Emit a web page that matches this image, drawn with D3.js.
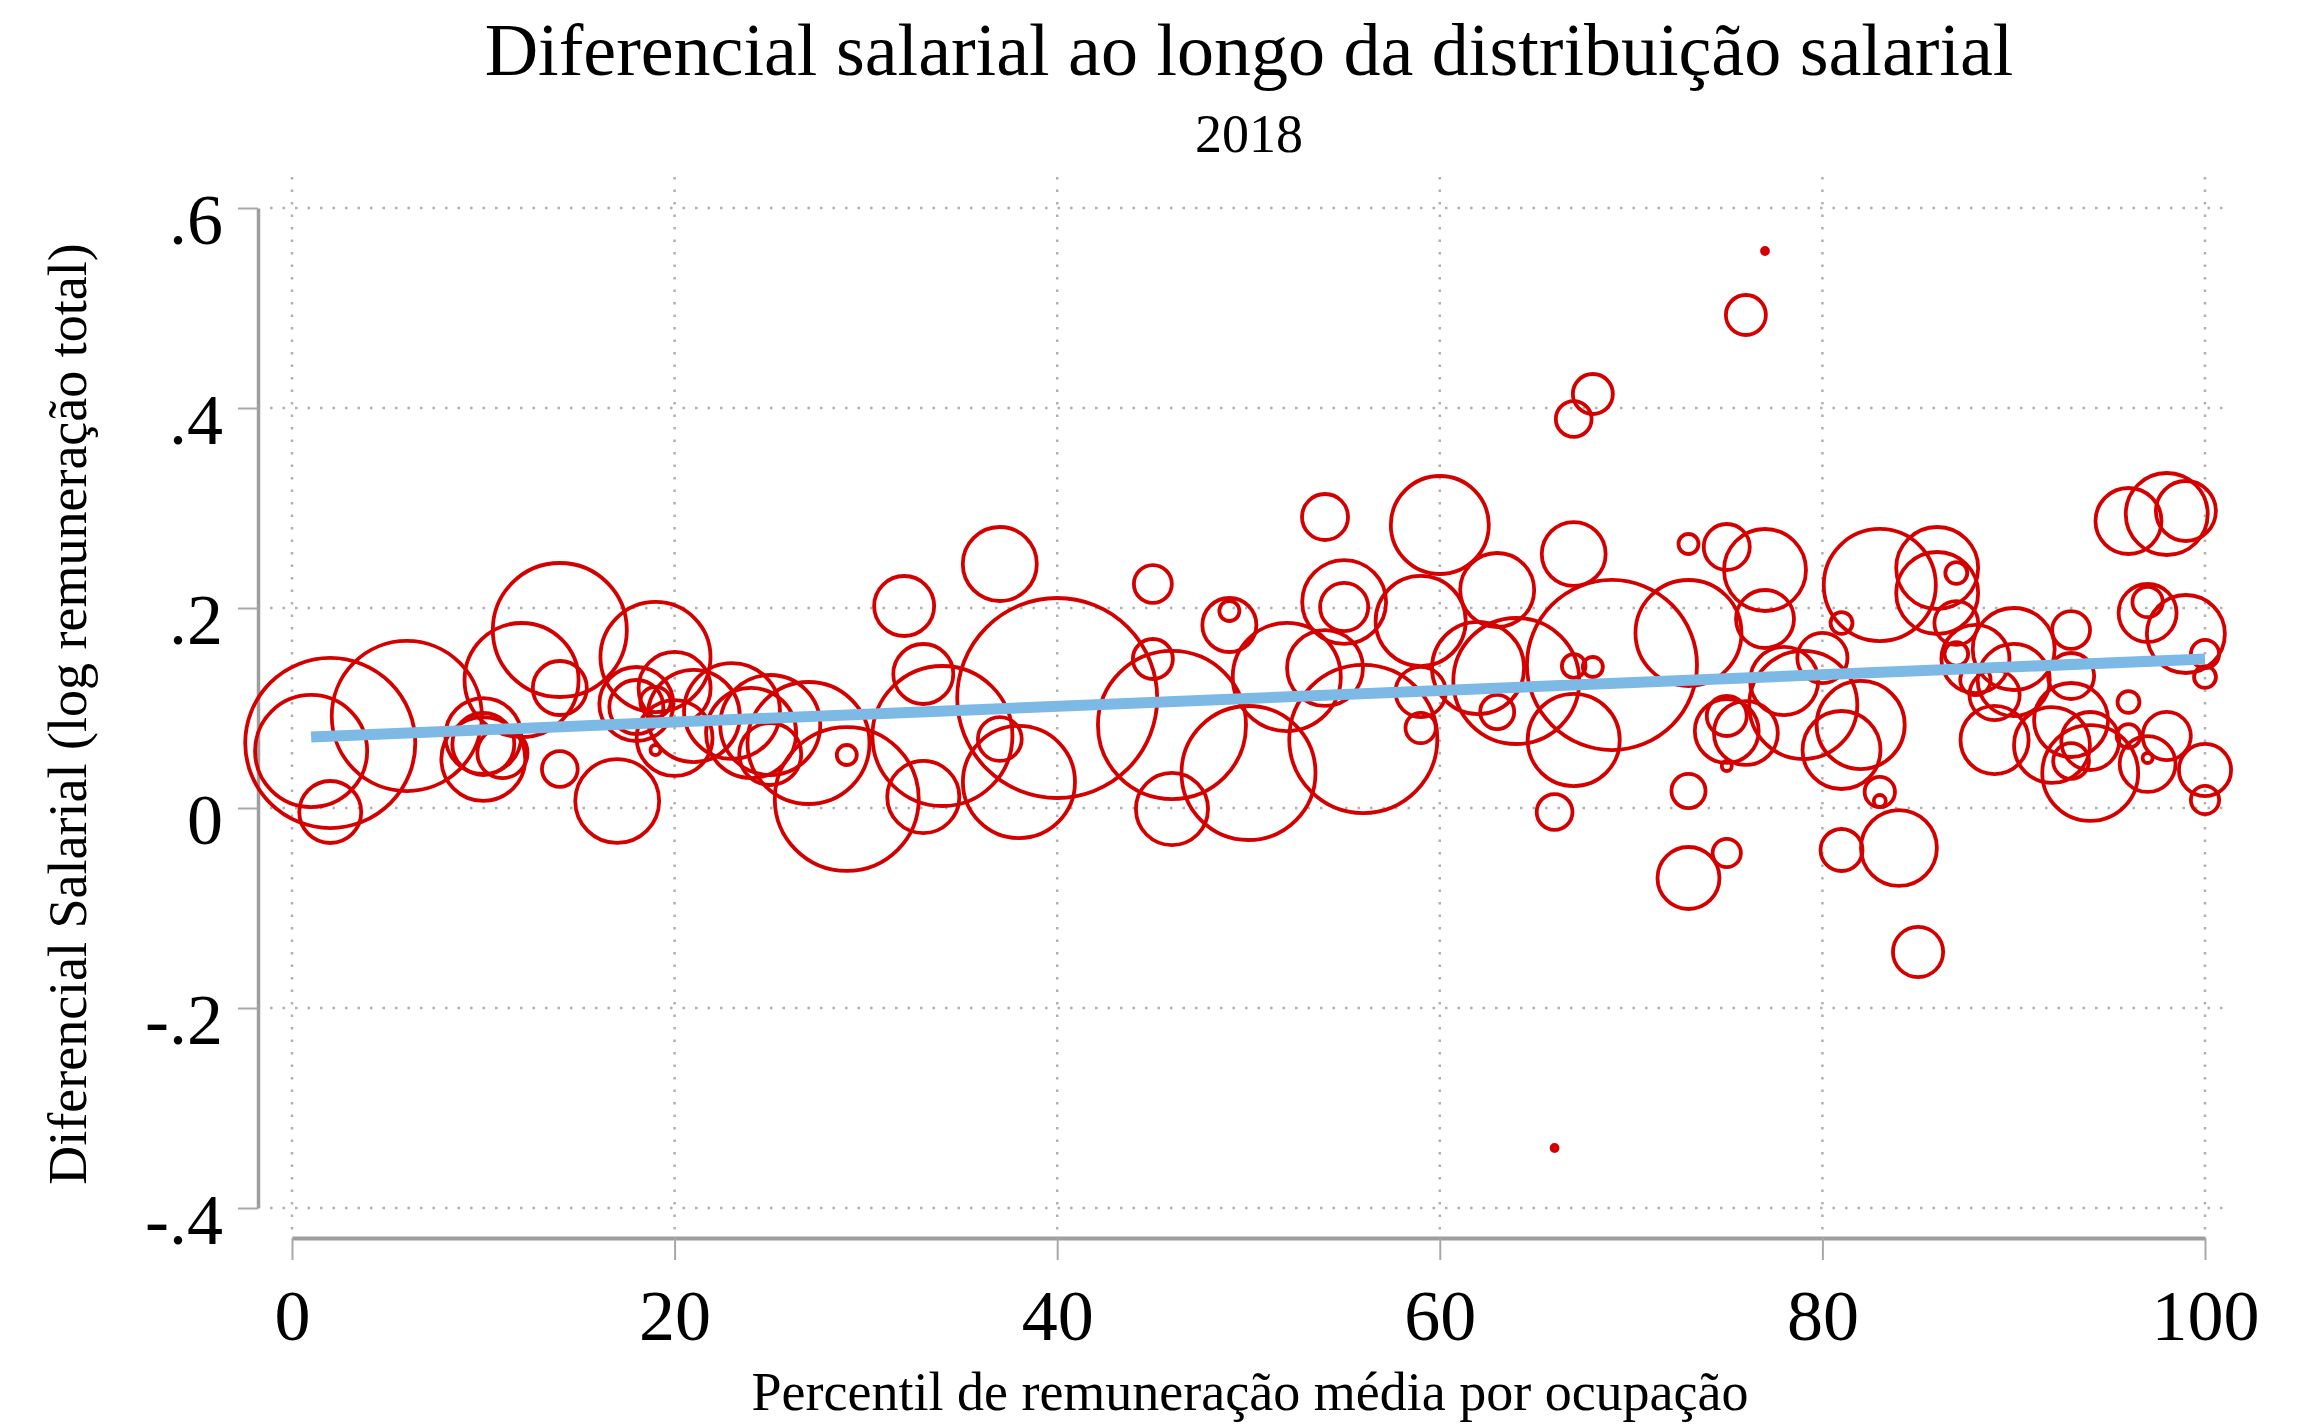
<!DOCTYPE html>
<html>
<head>
<meta charset="utf-8">
<script src="https://cdn.jsdelivr.net/npm/d3@7"></script>
<style>
  body { margin: 0; background: #fff; }
  text { font-family: "Liberation Serif", "Times New Roman", serif; fill: #000; }
</style>
</head>
<body>
<script>
// dados (percentil, diferencial, peso da ocupacao)
const percentil = [1, 2, 2, 6, 10, 10, 10, 11, 12, 14, 14, 14, 17, 18, 18, 19, 19, 19, 20, 20,
  21, 23, 24, 25, 25, 27, 29, 29, 32, 33, 33, 34, 37, 37, 38, 40, 45, 45, 46, 46,
  49, 49, 50, 52, 54, 54, 55, 55, 56, 59, 59, 59, 60, 62, 63, 63, 64, 66, 66, 67,
  67, 68, 67, 68, 69, 67, 73, 73, 73, 73, 75, 75, 76, 75, 75, 75, 76, 77, 77, 77,
  78, 79, 80, 81, 81, 81, 82, 83, 83, 83, 84, 85, 86, 86, 87, 87, 87, 88, 88, 89,
  89, 90, 90, 92, 93, 93, 93, 93, 94, 94, 96, 96, 96, 97, 97, 97, 97, 98, 98, 99,
  99, 100, 100, 100, 100];

const diferencial = [0.057, 0.065, -0.004, 0.092, 0.049, 0.072, 0.064, 0.055, 0.128, 0.178, 0.12, 0.039, 0.007, 0.104, 0.101, 0.106, 0.058, 0.151, 0.12, 0.07,
  0.092, 0.097, 0.075, 0.083, 0.054, 0.065, 0.009, 0.053, 0.202, 0.134, 0.011, 0.072, 0.244, 0.069, 0.026, 0.11, 0.224, 0.149, 0.083, -0.001,
  0.183, 0.197, 0.035, 0.131, 0.291, 0.14, 0.206, 0.201, 0.069, 0.187, 0.116, 0.08, 0.283, 0.14, 0.218, 0.096, 0.127, -0.004, -0.34, 0.254,
  0.389, 0.414, 0.142, 0.141, 0.143, 0.068, 0.175, 0.264, 0.017, -0.07, 0.261, 0.077, 0.075, 0.092, 0.042, -0.045, 0.493, 0.557, 0.238, 0.189,
  0.127, 0.103, 0.15, 0.185, 0.058, -0.042, 0.083, 0.223, 0.016, 0.007, -0.04, -0.144, 0.24, 0.215, 0.235, 0.185, 0.154, 0.149, 0.128, 0.113,
  0.068, 0.159, 0.128, 0.063, 0.178, 0.132, 0.088, 0.047, 0.067, 0.035, 0.287, 0.106, 0.072, 0.195, 0.206, 0.044, 0.05, 0.294, 0.072, 0.297,
  0.174, 0.154, 0.131, 0.038, 0.008];

const peso = [31.4, 72.3, 9.6, 56.3, 17.6, 14.4, 9.6, 6.3, 32.5, 44.9, 7.3, 3.2, 17.6, 13.7, 7.3, 2.3, 0.25, 30.3, 13, 14.4,
  21.2, 23, 20.3, 25, 9.6, 37.2, 51.8, 1, 9, 9, 13, 49, 13.7, 4.8, 31.4, 100, 3.6, 4, 54.8, 13,
  7.3, 1, 44.9, 29.2, 5.3, 14.4, 17.6, 5.8, 54.8, 20.3, 6.3, 2.3, 24, 21.2, 13.7, 2.9, 39.7, 3.2, 0.09, 10.2,
  3.2, 4, 1.4, 1, 72.3, 21.2, 28.1, 1, 2.9, 9.6, 5.3, 10.2, 10.2, 4, 0.25, 2, 4, 0.09, 16.8, 8.4,
  11.6, 29.2, 6.3, 1.2, 15.2, 4.4, 19.4, 31.4, 2.3, 0.36, 14.4, 6.3, 16.8, 16.8, 1.2, 4.8, 1.4, 11.6, 2.3, 6.3,
  11.6, 16.8, 13, 14.4, 3.6, 5.3, 13.7, 3.2, 8.4, 23, 10.9, 1.2, 1.4, 8.4, 2.3, 7.8, 0.25, 16.8, 5.8, 9,
  15.2, 2, 1.2, 6.8, 2];

// reta ajustada (valores previstos nos extremos)
const ajusteX = [1, 100];
const ajusteY = [0.071, 0.149];

const xTicks = [0, 20, 40, 60, 80, 100];
const yTicks = [-0.4, -0.2, 0, 0.2, 0.4, 0.6];

const titulo = 'Diferencial salarial ao longo da distribuição salarial';
const subtitulo = '2018';
const tituloX = 'Percentil de remuneração média por ocupação';
const tituloY = 'Diferencial Salarial (log remuneração total)';

const width = 2315;
const height = 1428;

const svg = d3.select('body')
              .append('svg')
              .attr('width', width)
              .attr('height', height)
              .style('background', '#fff');

const xScale = d3.scaleLinear().domain([0, 100]).range([292, 2205]);
const yScale = d3.scaleLinear().domain([-0.4, 0.6]).range([1208, 208]);
const rScale = d3.scaleSqrt().domain([0, 100]).range([0, 100]);

const plotLeft = 270, plotRight = 2230, plotTop = 177, plotBottom = 1232;

// grade pontilhada
svg.append('g')
   .selectAll('line')
   .data(yTicks)
   .enter()
   .append('line')
   .attr('x1', plotLeft)
   .attr('x2', plotRight)
   .attr('y1', d => yScale(d))
   .attr('y2', d => yScale(d))
   .attr('stroke', '#b0b0b0')
   .attr('stroke-width', 2.5)
   .attr('stroke-dasharray', '2.5 10');

svg.append('g')
   .selectAll('line')
   .data(xTicks)
   .enter()
   .append('line')
   .attr('x1', d => xScale(d))
   .attr('x2', d => xScale(d))
   .attr('y1', plotTop)
   .attr('y2', plotBottom)
   .attr('stroke', '#b0b0b0')
   .attr('stroke-width', 2.5)
   .attr('stroke-dasharray', '2.5 10');

// eixos
const fmtY = d => d === 0 ? '0' : (d < 0 ? '-' : '') + d3.format('.1f')(Math.abs(d)).replace('0.', '.');

const yAxis = svg.append('g')
                 .attr('transform', 'translate(258, 0)')
                 .call(d3.axisLeft(yScale).tickValues(yTicks).tickFormat(fmtY).tickSize(20).tickSizeOuter(0).tickPadding(15));

const xAxis = svg.append('g')
                 .attr('transform', 'translate(0, 1238)')
                 .call(d3.axisBottom(xScale).tickValues(xTicks).tickSize(22).tickSizeOuter(0));

yAxis.select('.domain').attr('stroke', '#9e9e9e').attr('stroke-width', 3.5);
xAxis.select('.domain').attr('stroke', '#9e9e9e').attr('stroke-width', 4);
svg.selectAll('.tick line').attr('stroke', '#a8a8a8').attr('stroke-width', 2);

yAxis.selectAll('text')
     .attr('dy', null)
     .attr('y', 35)
     .style('font-size', '72px')
     .style('font-family', '"Liberation Serif", "Times New Roman", serif');

xAxis.selectAll('text')
     .attr('dy', null)
     .attr('y', 102)
     .style('font-size', '72px')
     .style('font-family', '"Liberation Serif", "Times New Roman", serif');

// bolhas
const dados = percentil.map((p, i) => ({ x: p, y: diferencial[i], w: peso[i] }));

svg.append('g')
   .selectAll('circle')
   .data(dados)
   .enter()
   .append('circle')
   .attr('cx', d => xScale(d.x))
   .attr('cy', d => yScale(d.y))
   .attr('r', d => Math.max(rScale(d.w), 2))
   .attr('fill', d => d.w < 0.2 ? '#d40000' : 'none')
   .attr('stroke', '#d40000')
   .attr('stroke-width', 3.8);

// reta de ajuste
const linha = d3.line()
                .x(d => xScale(d[0]))
                .y(d => yScale(d[1]));

svg.append('path')
   .datum(ajusteX.map((x, i) => [x, ajusteY[i]]))
   .attr('d', linha)
   .attr('fill', 'none')
   .attr('stroke', '#7db9e5')
   .attr('stroke-width', 11);

// textos
svg.append('text')
   .attr('x', 1249)
   .attr('y', 75)
   .attr('text-anchor', 'middle')
   .style('font-size', '74px')
   .text(titulo);

svg.append('text')
   .attr('x', 1249)
   .attr('y', 152)
   .attr('text-anchor', 'middle')
   .style('font-size', '54px')
   .text(subtitulo);

svg.append('text')
   .attr('x', 1250)
   .attr('y', 1410)
   .attr('text-anchor', 'middle')
   .style('font-size', '54px')
   .text(tituloX);

svg.append('text')
   .attr('transform', 'translate(86, 714) rotate(-90)')
   .attr('text-anchor', 'middle')
   .style('font-size', '54px')
   .text(tituloY);
</script>
</body>
</html>
